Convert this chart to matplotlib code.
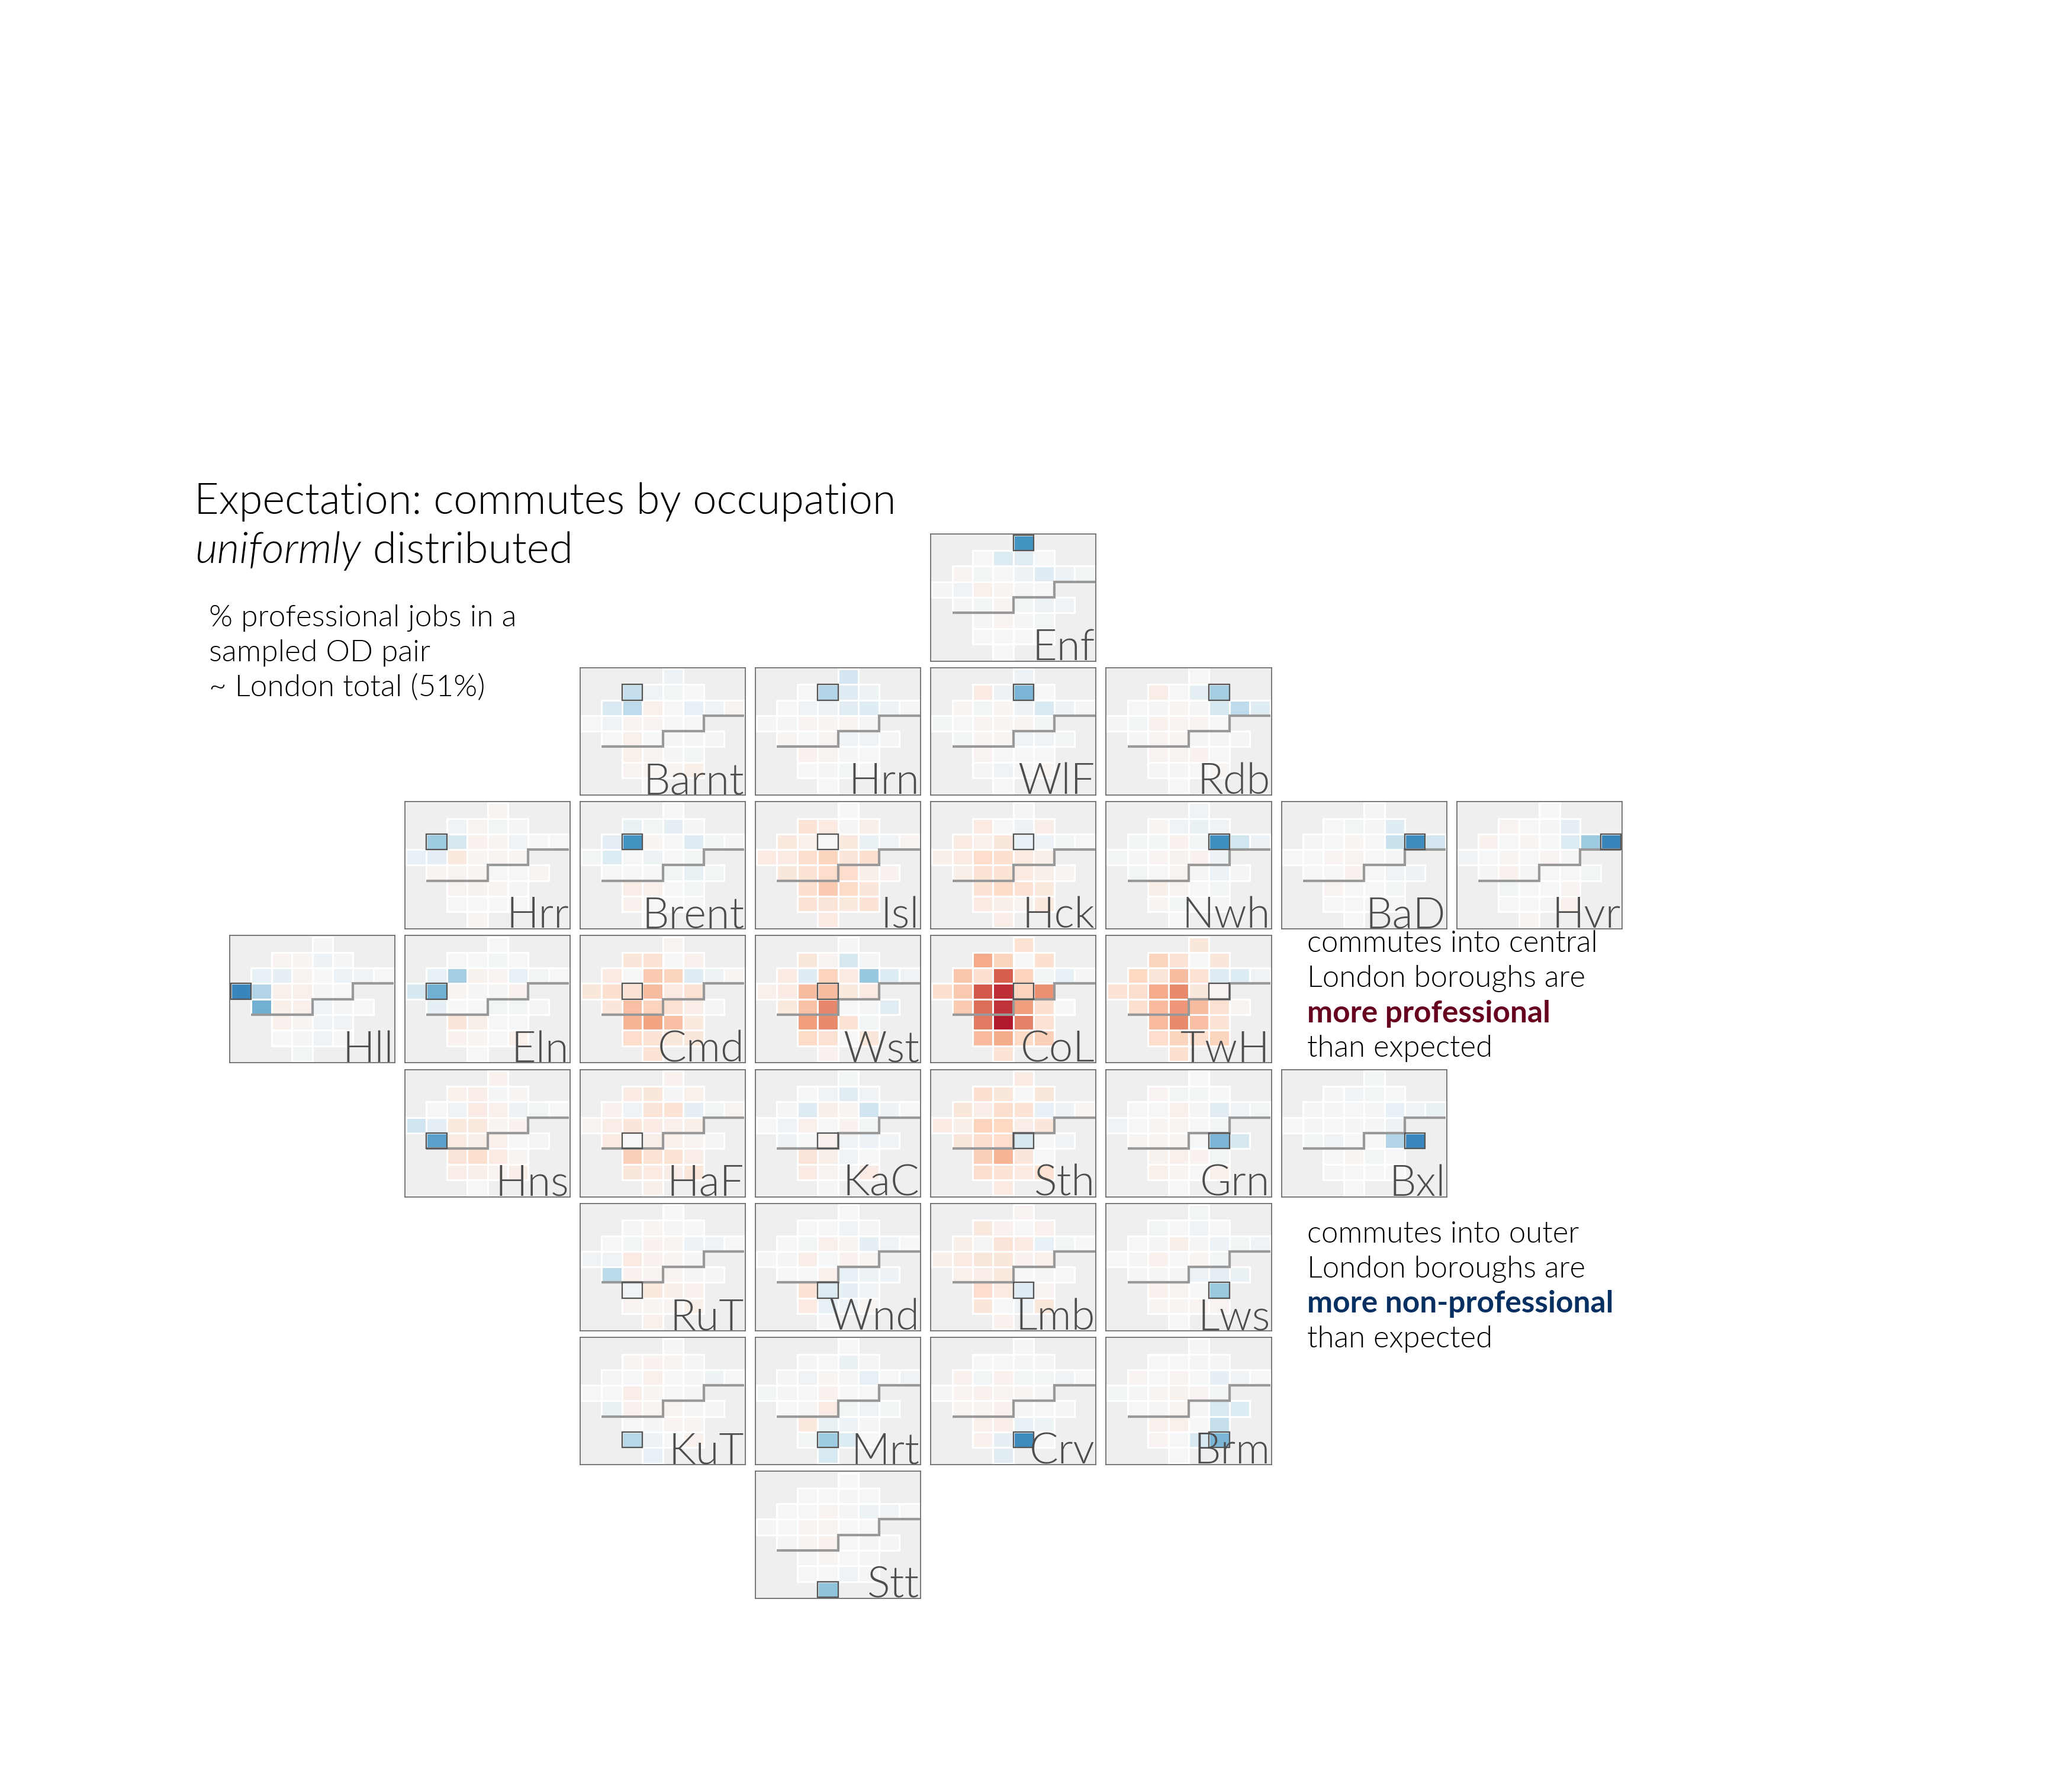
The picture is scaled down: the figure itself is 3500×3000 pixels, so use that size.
import numpy as np
import matplotlib
matplotlib.use('Agg')
from matplotlib import pyplot as plt
from matplotlib.patches import Rectangle

plt.rcParams['font.family'] = ['Lato', 'DejaVu Sans']

# tile map: (name, row, col), same order is used for the cells inside a panel
names = ['Enf',
         'Barnt', 'Hrn', 'WlF', 'Rdb',
         'Hrr', 'Brent', 'Isl', 'Hck', 'Nwh', 'BaD', 'Hvr',
         'Hll', 'Eln', 'Cmd', 'Wst', 'CoL', 'TwH',
         'Hns', 'HaF', 'KaC', 'Sth', 'Grn', 'Bxl',
         'RuT', 'Wnd', 'Lmb', 'Lws',
         'KuT', 'Mrt', 'Crv', 'Brm',
         'Stt']
rows = [0] + [1]*4 + [2]*7 + [3]*6 + [4]*6 + [5]*4 + [6]*4 + [7]
cols = [4, 2, 3, 4, 5, 1, 2, 3, 4, 5, 6, 7, 0, 1, 2, 3, 4, 5,
        1, 2, 3, 4, 5, 6, 2, 3, 4, 5, 2, 3, 4, 5, 3]

# signed excess of professional jobs, one list per destination panel
Enf = [-3.0, 0, -.7, -.55, -.05, .15, -.15, .02, -.25, -.6, -.3, -.15, -.1, -.2, .25, .1, -.1, -.05,
       -.1, -.15, .1, -.15, -.25, -.2, .05, .15, -.1, -.15, 0, -.03, -.02, -.1, -.03]
Barnt = [-.3, -1.2, -.2, -.15, -.02, -.75, -1.3, .25, -.05, -.4, -.2, .12, .03, -.2, .15, .12, .02, -.05,
         -.05, .25, -.02, -.1, -.1, -.1, .25, .12, -.1, -.12, .12, .1, .1, .3, .03]
Hrn = [-.9, -.05, -1.5, -.6, -.25, .02, -.2, -.3, -.55, -.6, -.3, -.08, -.1, -.1, .15, .1, .12, -.08,
       .1, -.03, .12, -.2, -.2, -.1, .2, .12, -.08, -.05, -.02, -.1, -.12, .05, -.02]
WlF = [-.3, .4, -.3, -2.3, -.02, .1, -.15, .1, -.3, -.8, -.3, -.1, -.12, -.05, .12, .1, .08, -.12,
       -.15, .1, .1, -.2, -.2, -.15, .12, -.03, -.05, -.05, -.08, -.2, -.08, .1, -.02]
Rdb = [.03, .35, -.05, -.45, -1.7, .02, .05, .08, -.1, -.85, -1.3, -.6, -.1, -.12, .2, .15, .12, 0,
       -.1, .15, .08, -.1, -.08, -.08, .12, .15, .2, .03, -.08, .05, .02, .1, -.03]
Hrr = [.08, -.2, .12, -.15, .06, -1.8, -.85, .2, .08, -.2, -.02, .02, -.4, -.5, .5, .1, .12, .08,
       .1, .15, .08, -.05, -.05, .08, .15, .18, .08, .04, 0, -.02, -.02, 0, .1]
Brent = [-.05, -.35, -.15, -.45, -.08, -.5, -3.0, .1, -.05, -.6, -.15, .04, -.15, -.7, -.05, -.25, -.05, -.12,
         -.05, -.03, -.03, -.15, -.35, -.15, .35, .25, -.02, -.15, .22, 0, -.02, 0, -.02]
Isl = [-.02, .7, .45, -.1, .3, .5, .25, 0, .5, -.35, -.2, .15, .45, .4, .85, 1.1, .6, .85,
       .55, .7, .9, .9, .3, .2, .8, 1.3, .95, .6, .7, .65, .5, .7, .45]
Hck = [-.1, .45, -.02, -.25, .35, .4, .25, .55, -.4, -.3, -.15, -.05, .3, .45, .9, .8, .45, .3,
       .3, .7, .7, .45, .3, .08, .7, .95, .75, .5, .45, .3, .15, .5, .35]
Nwh = [-.2, .1, -.2, -.35, -.2, -.12, -.15, .2, -.15, -3.1, -.95, -.3, -.15, -.1, .12, .17, .2, -.3,
       -.15, -.05, .12, .05, -.3, -.1, .3, .12, 0, -.15, .1, -.12, -.02, .05, -.05]
BaD = [-.1, -.05, -.12, -.1, -.6, .04, -.05, .1, 0, -1.1, -3.15, -.9, -.05, -.02, .12, .12, 0, -.08,
       -.02, -.02, .2, -.05, -.2, -.25, .12, -.05, -.05, -.15, -.02, -.05, .05, .05, -.02]
Hvr = [-.02, .15, 0, -.1, -.45, .2, .02, .08, -.02, -.7, -1.8, -3.3, -.2, -.05, .08, .02, .12, .04,
       .06, .2, .06, 0, -.05, -.15, -.12, -.05, -.05, .15, -.02, -.02, .05, .2, .08]
Hll = [-.08, .12, .1, -.3, -.08, -.4, -.45, .12, -.02, -.3, -.2, -.02, -3.3, -1.5, .25, .25, -.1, -.03,
       -2.4, .3, .25, -.2, -.1, -.05, .2, .08, -.2, -.2, -.02, -.1, -.2, -.05, -.15]
Eln = [-.02, -.06, -.03, -.15, -.02, -.4, -1.7, .18, .12, -.4, -.15, -.05, -.85, -2.4, .1, .06, .06, .2,
       -.45, -.02, .02, -.12, -.12, -.1, .65, .3, .02, -.05, .2, .1, 0, .25, 0]
Cmd = [.15, .65, .7, -.01, .2, .45, 0, 1.3, 1.1, -.6, -.25, .1, .55, .8, .7, 1.55, .45, .75,
       .6, 1.5, 1.15, .75, .35, -.1, 1.7, 2, 1.5, .5, .9, .7, .55, .55, .7]
Wst = [-.1, .55, .15, -.85, -.1, .45, -.6, 1.15, .45, -1.9, -.7, -.2, .25, .4, 1.55, 1.55, .5, .4,
       .5, 1.45, 2.45, -.02, -.1, -.55, 2.1, 2.4, .7, -.15, 1, .75, -.05, .6, .2]
CoL = [.75, 1.9, 1.1, -.01, .8, 1.4, .8, 3, 1.15, -.12, -.4, -.1, .8, 1.35, 3.1, 3.7, 1.15, 2.3,
       1.3, 2.8, 3.6, 2.1, .8, -.03, 2.6, 4, 2.5, .75, 1.6, 1.85, 1, 1.2, .7]
TwH = [.55, 1.1, .7, -.01, .6, 1.05, .65, 1.55, .75, -.65, -.7, -.2, .7, .85, 1.9, 2.4, .55, .15,
       .8, 1.6, 2.2, 1.55, .75, .15, 1.6, 2.4, 1.5, .7, .9, 1.1, .85, 1.1, .8]
Hns = [.2, .25, .35, -.1, .1, .03, -.2, .4, .25, -.25, -.12, -.03, -1, -.5, .5, .5, .08, .2,
       -2.7, .4, .3, .25, .02, .05, .65, .8, .45, .1, .35, .3, .15, .35, .03]
HaF = [.2, .4, .55, -.1, .25, .2, -.2, .65, .7, -.45, -.15, .12, .15, .35, .6, .4, .25, .3,
       .4, .03, .3, .25, .08, .06, 1.2, .7, .7, .35, .55, .45, .35, .6, .3]
KaC = [-.15, -.03, -.2, -.55, -.2, -.1, -.65, .3, .1, -1, -.3, -.04, -.05, -.2, .25, -.07, .2, -.15,
       -.25, -.03, .2, -.2, -.3, -.2, .65, .3, -.2, -.02, .4, .12, -.1, .4, -.1]
Sth = [.4, .8, .55, -.03, .55, .55, .35, .85, .7, -.4, -.25, .08, .4, .3, 1.15, 1.05, .35, .6,
       .55, .85, .9, -.85, -.03, -.2, 1.2, 1.7, .6, -.05, .85, .7, .45, .75, .45]
Grn = [-.01, .12, -.15, -.15, -.01, .02, -.04, .25, .06, -.55, -.2, -.15, -.2, .02, .08, .15, .03, -.12,
       .08, .08, .1, -.06, -2.3, -.85, .18, .25, .2, -.15, .25, .1, -.07, .25, -.01]
Bxl = [-.15, -.1, -.17, -.15, -.05, .06, -.1, -.07, -.1, -.4, -.2, -.35, -.05, -.1, .02, -.08, -.1, -.25,
       -.12, -.2, -.01, -.03, -1.5, -3.25, .03, .08, -.12, -.06, .07, -.05, -.02, -.02, -.03]
RuT = [-.01, -.1, .1, -.1, -.02, .03, -.15, .2, .15, -.3, -.2, -.05, -.2, -.2, .4, .2, .1, .06,
       -1.35, .2, .15, .15, .06, .07, -.2, .5, .3, .2, .15, .1, .15, .3, .25]
Wnd = [-.07, .03, -.02, -.2, -.08, -.05, -.15, .25, .08, -.45, -.2, -.02, -.1, -.1, .35, -.02, .2, .08,
       .03, -.02, .25, -.4, -.25, -.3, .7, -.65, -.45, -.2, .45, -.4, -.3, .1, -.1]
Lmb = [.12, .5, .2, -.05, .2, .3, .05, .65, .4, -.4, -.15, -.03, .3, .4, .55, .55, .2, .25,
       .25, .35, .5, -.01, .05, -.07, .9, .45, -.6, .15, .6, -.01, -.3, .55, .2]
Lws = [-.12, -.12, .03, -.2, -.05, -.05, -.1, .3, .04, -.3, -.15, -.2, -.07, .06, .2, .02, .1, -.12,
       .07, .04, .05, -.3, -.5, -.35, .2, .15, -.02, -1.85, .1, .08, .15, .12, -.01]
KuT = [-.1, .1, .2, .15, .06, -.1, -.06, .25, -.02, -.1, -.25, .03, 0, .01, .35, .1, .03, .04,
       -.35, .2, .08, .12, -.08, .05, -.02, -.1, .15, .1, -1.4, -.3, -.05, .2, -.4]
Mrt = [-.05, .04, -.06, -.35, .05, -.08, -.2, .1, -.08, -.4, -.06, -.2, -.12, -.1, .02, .2, -.03, -.05,
       -.02, .06, .4, -.15, -.2, -.15, .5, -.35, -.3, -.1, -.15, -1.8, -.7, -.05, -.8]
Crv = [-.1, -.03, .03, -.08, .05, .2, -.12, .2, -.12, -.15, -.2, -.03, -.1, .15, .2, .15, .1, -.08,
       .08, .1, .2, -.08, -.06, -.08, .25, .35, -.4, -.25, .2, -.45, -3.15, -.05, -.55]
Brm = [.04, -.03, -.02, -.1, -.1, .12, .03, .12, -.04, -.45, -.2, -.07, -.12, -.08, .1, .18, .12, -.12,
       -.05, .06, .08, -.1, -.8, -.7, .2, .25, -.02, -1.2, .12, 0, -.8, -2.3, 0]
Stt = [-.02, -.05, .02, -.1, -.05, .02, -.05, .12, -.1, -.25, -.2, -.05, -.1, -.02, .15, .15, .03, -.05,
       .05, .1, .2, -.03, -.1, -.1, .05, .1, -.05, -.1, -.05, -.02, -.2, -.1, -2]

panel_values = [Enf, Barnt, Hrn, WlF, Rdb, Hrr, Brent, Isl, Hck, Nwh, BaD, Hvr, Hll, Eln, Cmd, Wst, CoL, TwH,
                Hns, HaF, KaC, Sth, Grn, Bxl, RuT, Wnd, Lmb, Lws, KuT, Mrt, Crv, Brm, Stt]

# river, in cell units of the small map
thames_x = [1, 4, 4, 6, 6, 8]
thames_y = [5, 5, 4, 4, 3, 3]

W, H = 3500, 3000
fig = plt.figure(figsize=(W / 100, H / 100), dpi=100, facecolor='white')

# full size axes for the loose text, in pixels
bg = fig.add_axes([0, 0, 1, 1])
bg.set_xlim(0, W)
bg.set_ylim(H, 0)
bg.axis('off')

cmap = plt.get_cmap('RdBu_r')
norm = plt.Normalize(-5, 5)

for i, name in enumerate(names):
    left = 388 + 296.1 * cols[i]
    top = 901.7 + 226.25 * rows[i]
    ax = fig.add_axes([left / W, 1 - (top + 215) / H, 279 / W, 215 / H])
    ax.set_facecolor('#efefef')

    ax.bar(np.array(cols) + 0.5, 1, width=1, bottom=rows, color=cmap(norm(panel_values[i])),
           edgecolor='white', linewidth=2.2)
    ax.plot(thames_x, thames_y, color='#999999', lw=3, solid_joinstyle='miter', solid_capstyle='butt', zorder=3)
    ax.add_patch(Rectangle((cols[i], rows[i]), 1, 1, fill=False, ec='#555555', lw=1.7, zorder=4))

    ax.set_xlim(-0.05, 8.05)
    ax.set_ylim(8.1, -0.08)
    ax.set_xticks([])
    ax.set_yticks([])
    for s in ax.spines.values():
        s.set_color('#6e6e6e')
        s.set_linewidth(1.3)
    # weight 300 is Lato Light, 'light' lands on the hairline cut
    ax.text(0.993, 0.008, name, transform=ax.transAxes, ha='right', va='baseline', fontsize=52,
            color='#4d4d4d', weight=300, zorder=5)

# title
bg.text(328, 848, 'Expectation: commutes by occupation', fontsize=51.9, weight=300, va='center', color='black')
t = bg.text(330, 931, 'uniformly', fontsize=52.5, weight=300, style='italic', va='center', color='black')
bg.annotate(' distributed', xy=(1, 0.5), xycoords=t, va='center', fontsize=52.5, weight=300, color='black')

for y, s in zip([1044, 1103, 1162], ['% professional jobs in a', 'sampled OD pair', '~ London total (51%)']):
    bg.text(353, y, s, fontsize=37, va='center', color='black', weight=300)

side_a = ['commutes into central', 'London boroughs are', 'more professional', 'than expected']
side_b = ['commutes into outer', 'London boroughs are', 'more non-professional', 'than expected']
for y, s in zip([1594, 1653, 1712, 1771], side_a):
    bold = s.startswith('more')
    bg.text(2208, y, s, fontsize=37 if bold else 36.7, va='center', color='#67001f' if bold else 'black',
            weight='bold' if bold else 300)
for y, s in zip([2085, 2144, 2203, 2262], side_b):
    bold = s.startswith('more')
    bg.text(2208, y, s, fontsize=37 if bold else 36.7, va='center', color='#053061' if bold else 'black',
            weight='bold' if bold else 300)

fig.savefig('out.png', dpi=100)
